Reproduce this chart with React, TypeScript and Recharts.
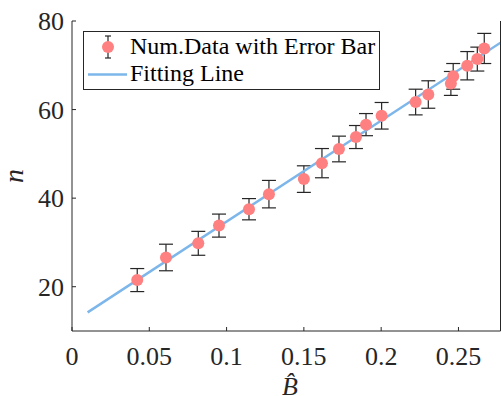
import {
  ComposedChart,
  Scatter,
  Line,
  XAxis,
  YAxis,
  ErrorBar,
} from 'recharts';

// measured points (B-hat, n, half error)
const bHat = [
  0.0422, 0.0608, 0.0817, 0.0951, 0.1145, 0.1274, 0.15, 0.1617, 0.1727, 0.1837,
  0.1902, 0.2003, 0.2223, 0.2305, 0.2451, 0.2466, 0.2557, 0.2622, 0.2667,
];
const nValues = [
  21.5, 26.6, 29.8, 33.8, 37.5, 40.9, 44.3, 47.9, 51.1, 53.8,
  56.6, 58.6, 61.7, 63.4, 65.9, 67.5, 69.9, 71.4, 73.8,
];
const nErrors = [
  2.6, 3.0, 2.7, 2.6, 2.4, 3.1, 3.0, 3.3, 2.9, 2.6,
  2.5, 3.0, 2.9, 3.1, 2.7, 2.9, 3.2, 2.7, 3.4,
];

// fitted line end points
const fitX = [0.0101, 0.2772];
const fitY = [14.2, 75.1];

const xTicks = [0, 0.05, 0.1, 0.15, 0.2, 0.25];
const yTicks = [20, 40, 60, 80];

const points = bHat.map((x, i) => ({ x, n: nValues[i], err: nErrors[i] }));
const fitData = fitX.map((x, i) => ({ x, fit: fitY[i] }));

const AXIS = '#262626';
const DOT = '#FF8080';
const LINE = '#7DB6EA';
const FONT = 'Liberation Serif, Times New Roman, serif';

const fmtX = (v: number) => (v === 0 ? '0' : String(v));

const XTick = (props: any) => (
  <text
    x={props.x}
    y={props.y}
    dy="0.71em"
    textAnchor="middle"
    style={{ fontFamily: FONT, fontSize: 26 }}
    fill={AXIS}
  >
    {fmtX(props.payload.value)}
  </text>
);

const YTick = (props: any) => (
  <text
    x={props.x}
    y={props.y}
    dy="0.355em"
    textAnchor="end"
    style={{ fontFamily: FONT, fontSize: 26 }}
    fill={AXIS}
  >
    {props.payload.value}
  </text>
);

const LegendBox = () => (
  <div
    style={{
      position: 'absolute',
      left: 83,
      top: 31,
      width: 295,
      height: 57,
      border: `1px solid ${AXIS}`,
      background: '#fff',
      fontFamily: FONT,
      fontSize: 24,
      color: '#000',
    }}
  >
    <svg width={46} height={57} style={{ position: 'absolute', left: 3, top: 0 }}>
      <line x1={21} x2={21} y1={4} y2={26} stroke={AXIS} strokeWidth={1.2} />
      <line x1={18} x2={24} y1={4} y2={4} stroke={AXIS} strokeWidth={1.2} />
      <line x1={18} x2={24} y1={26} y2={26} stroke={AXIS} strokeWidth={1.2} />
      <circle cx={21} cy={15} r={6} fill={DOT} />
      <line x1={1} x2={40} y1={42.5} y2={42.5} stroke={LINE} strokeWidth={2.5} />
    </svg>
    <div style={{ position: 'absolute', left: 46, top: 1, lineHeight: '27px', whiteSpace: 'nowrap' }}>
      Num.Data with Error Bar
    </div>
    <div style={{ position: 'absolute', left: 46, top: 28, lineHeight: '27px', whiteSpace: 'nowrap' }}>
      Fitting Line
    </div>
  </div>
);

const Dot = (props: any) => <circle cx={props.cx} cy={props.cy} r={6} fill={DOT} />;

export default function App() {
  return (
    <div
      style={{
        position: 'absolute',
        left: 0,
        top: 0,
        width: 501,
        height: 396,
        background: '#fff',
        fontFamily: FONT,
      }}
    >
      <ComposedChart
        width={501}
        height={396}
        margin={{ top: 21, right: 0, bottom: 0, left: 0 }}
      >
        <XAxis
          xAxisId="top"
          orientation="top"
          type="number"
          dataKey="x"
          domain={[0, 0.2772]}
          ticks={xTicks}
          height={0}
          tick={false}
          tickSize={-4}
          axisLine={{ stroke: AXIS }}
          tickLine={{ stroke: AXIS }}
          allowDataOverflow
        />
        <YAxis
          yAxisId="right"
          orientation="right"
          type="number"
          domain={[10, 80]}
          ticks={yTicks}
          width={0.5}
          tick={false}
          tickSize={-4}
          axisLine={{ stroke: AXIS }}
          tickLine={{ stroke: AXIS }}
          allowDataOverflow
        />
        <XAxis
          type="number"
          dataKey="x"
          domain={[0, 0.2772]}
          ticks={xTicks}
          height={65}
          tickSize={-4}
          tickMargin={19.5}
          tick={XTick}
          axisLine={{ stroke: AXIS }}
          tickLine={{ stroke: AXIS }}
          allowDataOverflow
          label={{
            content: ({ viewBox }: any) => (
              <text
                x={viewBox.x + 218}
                y={viewBox.y + 64}
                textAnchor="middle"
                style={{ fontFamily: FONT, fontSize: 26, fontStyle: 'italic' }}
                fill={AXIS}
              >
                B{'\u0302'}
              </text>
            ),
          }}
        />
        <YAxis
          type="number"
          domain={[10, 80]}
          ticks={yTicks}
          width={72}
          tickSize={-4}
          tickMargin={12}
          tick={YTick}
          axisLine={{ stroke: AXIS }}
          tickLine={{ stroke: AXIS }}
          allowDataOverflow
          label={{
            content: () => (
              <text
                x={0}
                y={0}
                transform="translate(23 176) rotate(-90)"
                textAnchor="middle"
                style={{ fontFamily: FONT, fontSize: 28, fontStyle: 'italic' }}
                fill={AXIS}
              >
                n
              </text>
            ),
          }}
        />
        <Scatter data={points} dataKey="n" shape={Dot} isAnimationActive={false}>
          <ErrorBar dataKey="err" direction="y" width={7} stroke={AXIS} strokeWidth={1.2} />
        </Scatter>
        <Line
          data={fitData}
          dataKey="fit"
          type="linear"
          stroke={LINE}
          strokeWidth={2.5}
          dot={false}
          activeDot={false}
          isAnimationActive={false}
        />
      </ComposedChart>
      <LegendBox />
    </div>
  );
}
